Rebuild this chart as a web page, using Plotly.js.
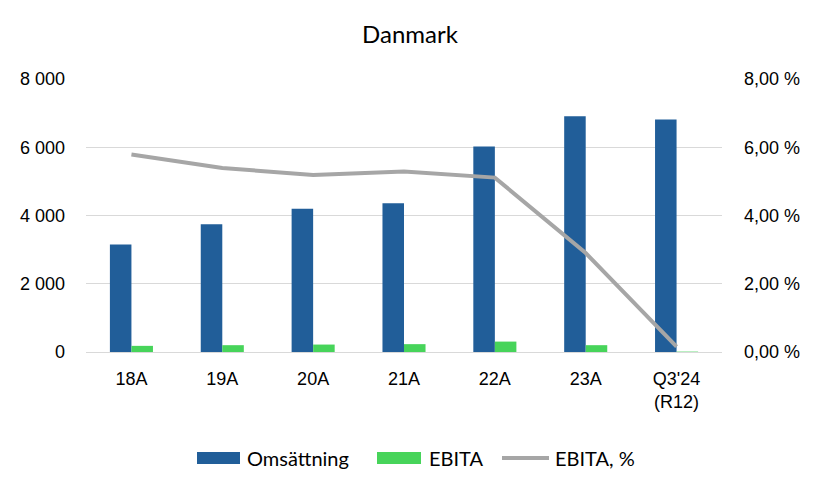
<!DOCTYPE html>
<html>
<head>
<meta charset="utf-8">
<script src="https://cdn.plot.ly/plotly-3.0.1.min.js"></script>
<style>
  html, body { margin: 0; padding: 0; background: #fff; }
  #plot { width: 820px; height: 492px; }
</style>
</head>
<body>
<div id="plot"></div>
<script>
// Data
let categories = ['18A', '19A', '20A', '21A', '22A', '23A', "Q3'24<br>(R12)"]
let omsattning = [3150, 3740, 4200, 4360, 6020, 6910, 6810]
let ebita = [180, 200, 218, 230, 305, 200, 11]
let ebita_pct = [5.79, 5.39, 5.19, 5.29, 5.11, 2.90, 0.16]

let series_names = ['Omsättning', 'EBITA', 'EBITA, %']
let series_colors = ['#215E99', '#47D45A', '#A6A6A6']

let plot_div = document.getElementById('plot')

let tick_font = {family: 'Liberation Sans, Arial, sans-serif', size: 18, color: '#000'}
let legend_font = {family: 'Lato, sans-serif', size: 20, color: '#000'}

// plot area in pixels, used to place the hand drawn legend
let margin = {l: 86, r: 98, t: 79, b: 140}
let plot_w = 820 - margin.l - margin.r
let plot_h = 492 - margin.t - margin.b
let px = x => (x - margin.l) / plot_w
let py = y => (492 - margin.b - y) / plot_h

let data = [
  {
    name: series_names[0],
    type: 'bar',
    x: categories,
    y: omsattning,
    marker: {color: series_colors[0]},
    hoverinfo: 'skip'
  },
  {
    name: series_names[1],
    type: 'bar',
    x: categories,
    y: ebita,
    marker: {color: series_colors[1]},
    hoverinfo: 'skip'
  },
  {
    name: series_names[2],
    type: 'scatter',
    mode: 'lines',
    x: categories,
    y: ebita_pct,
    yaxis: 'y2',
    line: {color: series_colors[2], width: 4},
    hoverinfo: 'skip'
  }
]

// Legend: wide swatches like the office chart
let legend_y = 458
let swatches = [
  {x0: 197, x1: 240, text_x: 245},
  {x0: 377, x1: 421, text_x: 427},
  {x0: 502, x1: 549, text_x: 553}
]

let shapes = []
let annotations = []
for (let [i, sw] of swatches.entries()) {
  if (i < 2) {
    shapes.push({
      type: 'rect', xref: 'paper', yref: 'paper',
      x0: px(sw.x0), x1: px(sw.x1), y0: py(legend_y + 6), y1: py(legend_y - 6),
      fillcolor: series_colors[i], line: {width: 0}
    })
  } else {
    shapes.push({
      type: 'line', xref: 'paper', yref: 'paper',
      x0: px(sw.x0), x1: px(sw.x1), y0: py(legend_y), y1: py(legend_y),
      line: {color: series_colors[i], width: 4}
    })
  }
  annotations.push({
    text: series_names[i], xref: 'paper', yref: 'paper',
    x: px(sw.text_x), y: py(legend_y), xanchor: 'left', yanchor: 'middle',
    showarrow: false, font: legend_font
  })
}

let layout = {
  width: 820,
  height: 492,
  paper_bgcolor: '#fff',
  plot_bgcolor: '#fff',
  separators: ', ',
  margin: margin,
  title: {
    text: 'Danmark',
    font: {family: 'Lato, sans-serif', size: 24, color: '#000'},
    x: 0.5,
    xanchor: 'center',
    y: 0.93,
    yanchor: 'middle'
  },
  barmode: 'group',
  bargap: 0.526,
  bargroupgap: 0,
  xaxis: {
    tickfont: tick_font,
    showgrid: false,
    showline: false,
    ticks: '',
    ticklabelstandoff: 14,
    fixedrange: true
  },
  yaxis: {
    range: [0, 8000],
    dtick: 2000,
    tickformat: ',d',
    tickfont: tick_font,
    gridcolor: '#D9D9D9',
    gridwidth: 1,
    zeroline: true,
    zerolinecolor: '#D9D9D9',
    zerolinewidth: 1,
    showline: false,
    ticks: '',
    ticklabelstandoff: 20,
    fixedrange: true
  },
  yaxis2: {
    overlaying: 'y',
    side: 'right',
    range: [0, 8],
    dtick: 2,
    tickformat: '.2f',
    ticksuffix: ' %',
    tickfont: tick_font,
    showgrid: false,
    zeroline: false,
    showline: false,
    ticks: '',
    ticklabelstandoff: 21,
    fixedrange: true
  },
  showlegend: false,
  shapes: shapes,
  annotations: annotations
}

Plotly.newPlot(plot_div, data, layout, {displayModeBar: false, staticPlot: true})
</script>
</body>
</html>
